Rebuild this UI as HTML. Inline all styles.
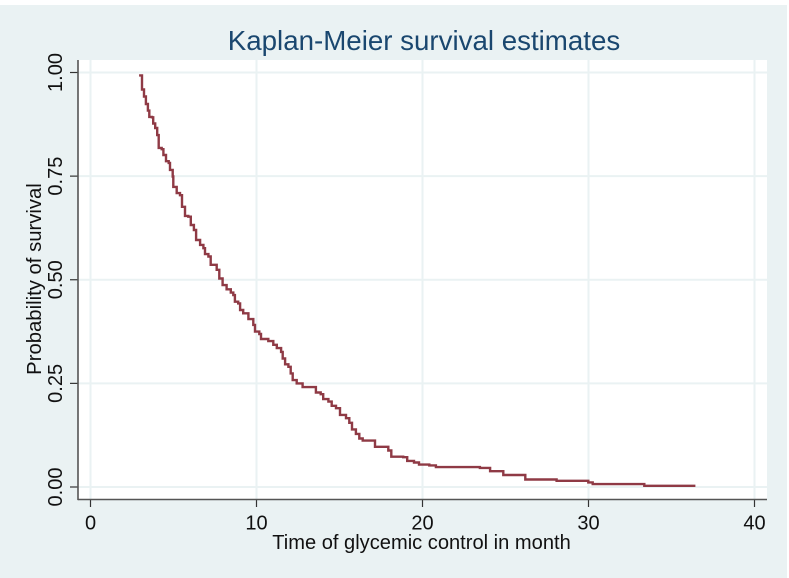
<!DOCTYPE html>
<html>
<head>
<meta charset="utf-8">
<style>
html,body{margin:0;padding:0;background:#fff;width:789px;height:578px;overflow:hidden}
svg{display:block;filter:blur(0.3px)}
text{font-family:"Liberation Sans",sans-serif}
</style>
</head>
<body>
<svg id="chart" width="789" height="578" viewBox="0 0 789 578" xmlns="http://www.w3.org/2000/svg">
  <rect x="0" y="5" width="787" height="573" fill="#eaf2f3"/>
  <rect x="78" y="60" width="689" height="439.5" fill="#ffffff"/>
  <g id="grid"></g>
  <g id="axes"></g>
  <path id="curve" fill="none" stroke="#8f3a45" stroke-width="2.4" stroke-linejoin="miter"/>
  <text x="424" y="50" text-anchor="middle" font-size="27.7" fill="#1a476f">Kaplan-Meier survival estimates</text>
  <text x="421.5" y="549" text-anchor="middle" font-size="20.1" fill="#111">Time of glycemic control in month</text>
  <text transform="translate(41 279) rotate(-90)" text-anchor="middle" font-size="20.3" fill="#111">Probability of survival</text>
</svg>
<script>
const times = [3.02,3.10,3.22,3.34,3.46,3.54,3.70,3.78,3.90,4.02,4.11,4.29,4.39,4.55,4.71,4.79,4.95,4.99,5.19,5.39,5.51,5.69,5.89,6.04,6.23,6.36,6.60,6.80,6.90,7.10,7.24,7.60,7.76,7.96,8.20,8.45,8.60,8.70,8.90,9.01,9.20,9.51,9.81,9.91,10.17,10.27,10.71,11.01,11.22,11.48,11.58,11.72,11.92,12.06,12.18,12.42,12.78,13.58,13.87,14.02,14.33,14.53,14.79,15.03,15.39,15.59,15.75,15.99,16.19,16.40,17.14,17.94,18.12,18.84,19.08,19.49,19.79,20.41,20.81,23.46,24.07,24.87,26.19,28.08,29.99,30.25,33.36,36.37];
const survival = [0.993,0.959,0.942,0.924,0.908,0.893,0.892,0.877,0.866,0.849,0.818,0.815,0.801,0.786,0.782,0.765,0.749,0.724,0.709,0.704,0.676,0.654,0.652,0.632,0.620,0.596,0.584,0.576,0.562,0.556,0.536,0.524,0.503,0.487,0.477,0.469,0.463,0.447,0.443,0.427,0.419,0.405,0.391,0.375,0.369,0.357,0.352,0.343,0.335,0.326,0.310,0.296,0.290,0.274,0.258,0.250,0.241,0.228,0.224,0.212,0.206,0.196,0.190,0.174,0.166,0.155,0.139,0.128,0.117,0.112,0.097,0.088,0.073,0.072,0.063,0.059,0.054,0.052,0.048,0.046,0.038,0.029,0.018,0.015,0.011,0.007,0.003,0.000];
const xTicks = [0,10,20,30,40];
const yTicks = [0,0.25,0.5,0.75,1];
const yTickLabels = ["0.00","0.25","0.50","0.75","1.00"];

const NS = "http://www.w3.org/2000/svg";
const xScale = t => 90.5 + t * 16.6;
const yScale = s => 487 - s * 414.5;
const plotLeft = 78, plotRight = 767, plotTop = 60, plotBottom = 499.5;

const grid = document.getElementById("grid");
const axes = document.getElementById("axes");

function line(parent, x1, y1, x2, y2, color, width) {
  const l = document.createElementNS(NS, "line");
  l.setAttribute("x1", x1);
  l.setAttribute("y1", y1);
  l.setAttribute("x2", x2);
  l.setAttribute("y2", y2);
  l.setAttribute("stroke", color);
  l.setAttribute("stroke-width", width);
  parent.appendChild(l);
  return l;
}

xTicks.forEach(v => {
  const x = xScale(v);
  const g = line(grid, x, plotTop, x, plotBottom, "#eaf2f3", 2);
  
  
  const t = line(axes, x, plotBottom, x, 507, "#333", 1.2);
  
  
  const lab = document.createElementNS(NS, "text");
  
  
  lab.setAttribute("x", x);
  lab.setAttribute("y", 529.5);
  lab.setAttribute("text-anchor", "middle");
  lab.setAttribute("font-size", "20");
  lab.setAttribute("fill", "#111");
  lab.textContent = String(v);
  axes.appendChild(lab);
});

yTicks.forEach((v, i) => {
  const y = yScale(v);
  const g = line(grid, plotLeft, y, plotRight, y, "#eaf2f3", 2);
  
  
  const t = line(axes, 70, y, plotLeft, y, "#333", 1.2);
  
  
  const lab = document.createElementNS(NS, "text");
  
  
  lab.setAttribute("transform", "translate(62 " + y + ") rotate(-90)");
  lab.setAttribute("text-anchor", "middle");
  lab.setAttribute("font-size", "20");
  lab.setAttribute("fill", "#111");
  lab.textContent = yTickLabels[i];
  axes.appendChild(lab);
});

const yAxis = line(axes, plotLeft, plotTop, plotLeft, plotBottom + 0.6, "#555", 1.6);


const xAxis = line(axes, plotLeft, plotBottom, plotRight, plotBottom, "#555", 1.6);



let d = "M" + (xScale(times[0]) - 1.5).toFixed(1) + " " + yScale(survival[0]).toFixed(1);
times.forEach((t, i) => {
  const x = xScale(t).toFixed(1);
  if (i > 0) d += "H" + x;
  d += "V" + yScale(survival[i]).toFixed(1);
});
document.getElementById("curve").setAttribute("d", d);
</script>
</body>
</html>
